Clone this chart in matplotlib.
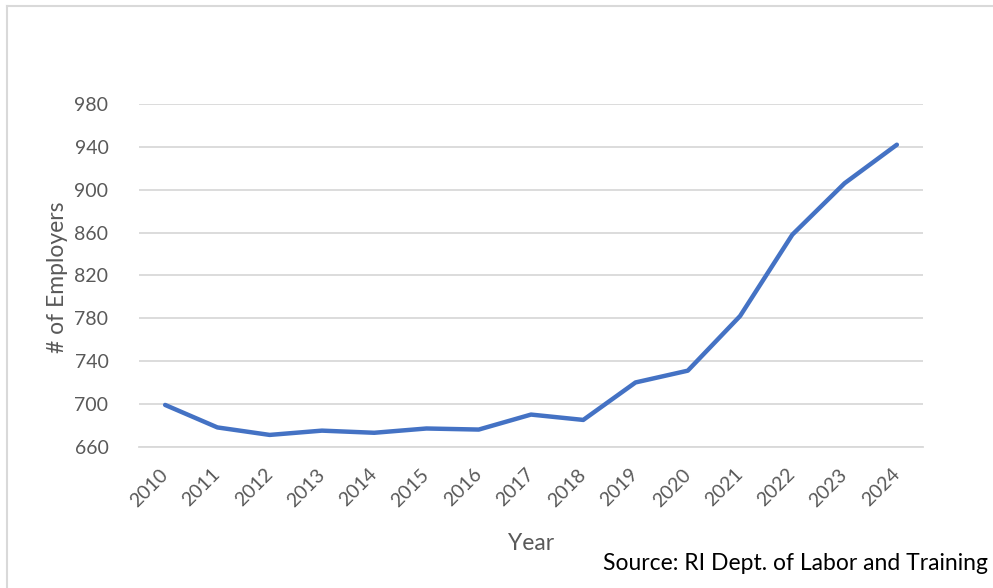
import matplotlib
matplotlib.use('Agg')
import matplotlib.pyplot as plt
from matplotlib.lines import Line2D

years = ['2010', '2011', '2012', '2013', '2014', '2015', '2016', '2017',
         '2018', '2019', '2020', '2021', '2022', '2023', '2024']
employers = [699, 678, 671, 675, 673, 677, 676, 690,
             685, 720, 731, 782, 858, 906, 942]
y_ticks = [660, 700, 740, 780, 820, 860, 900, 940, 980]

plt.rcParams['font.family'] = ['Lato', 'DejaVu Sans']
text_grey = '#595959'
grid_grey = '#d9d9d9'

fig = plt.figure(figsize=(9.93, 5.88), dpi=100)
W, H = 993, 588
ax = fig.add_axes([139 / W, 1 - 446.7 / H, (923 - 139) / W, (446.7 - 104) / H])

x = list(range(len(years)))
ax.plot(x, employers, color='#4472C4', linewidth=3.2,
        solid_capstyle='round', solid_joinstyle='round', zorder=3)

ax.set_xlim(-0.5, len(years) - 0.5)
ax.set_ylim(660, 980)
ax.set_yticks(y_ticks)
ax.set_yticklabels([str(v) for v in y_ticks])
ax.set_xticks(x)
ax.set_xticklabels(years, rotation=45, ha='right', va='center',
                   rotation_mode='anchor')

ax.grid(axis='y', color=grid_grey, linewidth=1.3)
ax.set_axisbelow(True)
for side in ['top', 'right', 'left']:
    ax.spines[side].set_visible(False)
ax.spines['bottom'].set_color(grid_grey)
ax.spines['bottom'].set_linewidth(1.3)

ax.tick_params(axis='y', length=0, pad=22, labelsize=14, labelcolor=text_grey)
ax.tick_params(axis='x', length=0, pad=18, labelsize=14, labelcolor=text_grey)

fig.text(57 / W, 1 - 277 / H, '# of Employers', rotation=90, ha='center',
         va='center', fontsize=16.5, color=text_grey)
fig.text(531 / W, 1 - 543 / H, 'Year', ha='center', va='center',
         fontsize=16.5, color=text_grey)
fig.text(988 / W, 1 - 563 / H, 'Source: RI Dept. of Labor and Training',
         ha='right', va='center', fontsize=16.5, color='black')

# outer chart frame, only top and left edges fall inside the image
fig.add_artist(Line2D([6.5 / W, 1], [1 - 5.5 / H, 1 - 5.5 / H],
                      color=grid_grey, linewidth=1.5))
fig.add_artist(Line2D([6.5 / W, 6.5 / W], [0, 1 - 5.5 / H],
                      color=grid_grey, linewidth=1.5))

fig.savefig('out.png', dpi=100)
